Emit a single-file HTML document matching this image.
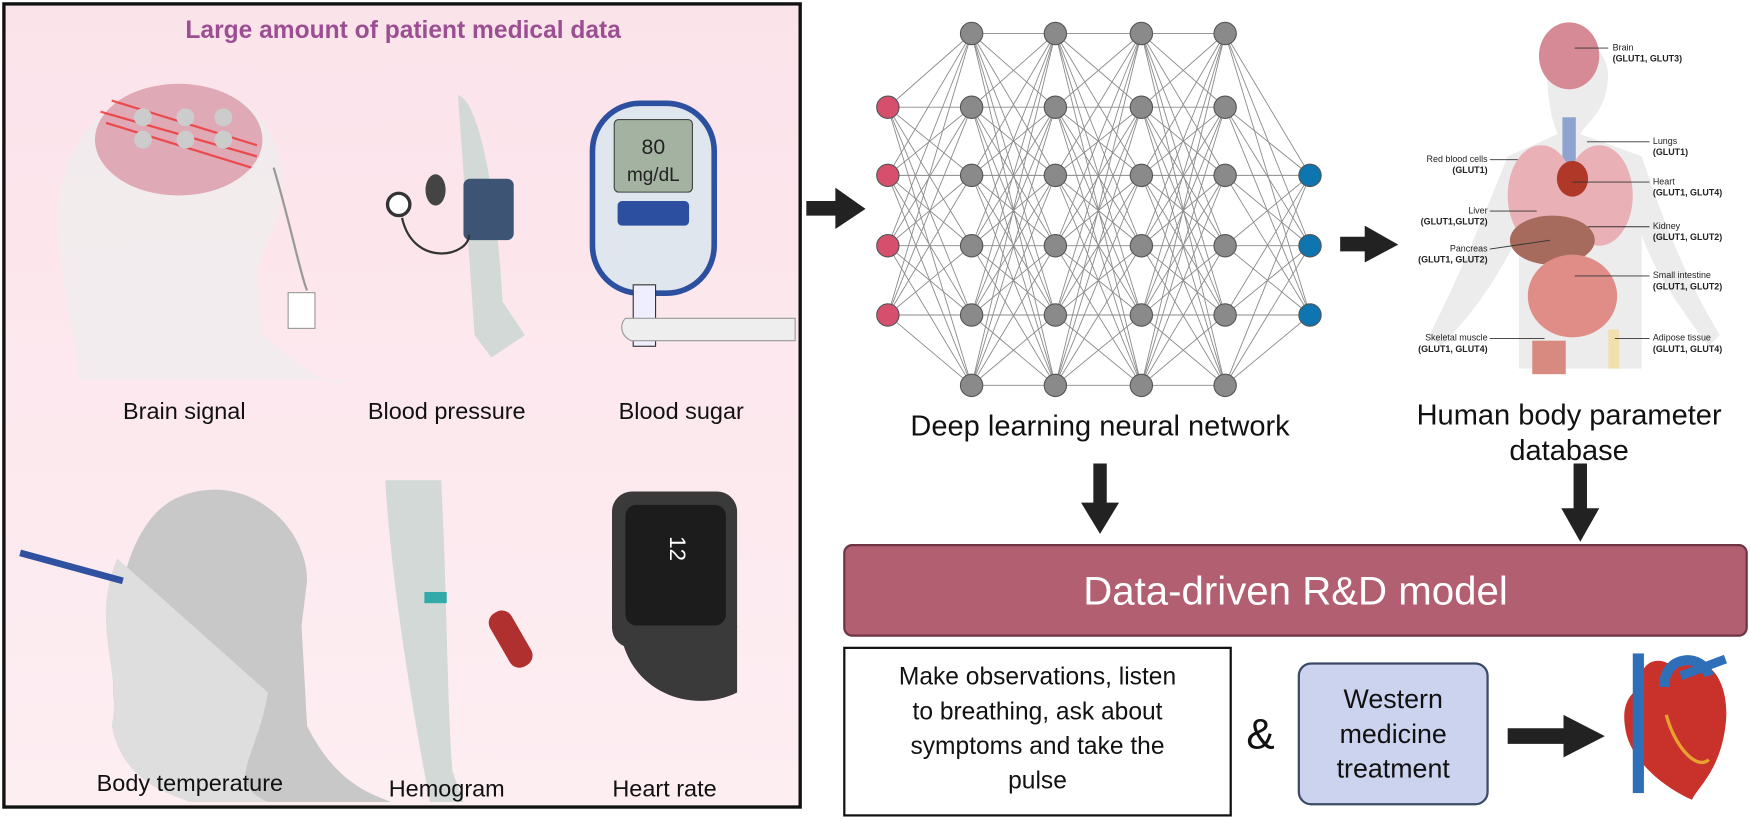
<!DOCTYPE html>
<html><head><meta charset="utf-8"><style>
body{margin:0;width:1750px;height:821px;background:#fff;position:relative;overflow:hidden;font-family:"Liberation Sans",sans-serif}
#w{position:absolute;left:0;top:0;width:1567px;height:735px;transform:scale(1.1168,1.117);transform-origin:0 0}
.t{position:absolute;color:#111;text-align:center}
</style></head><body><div id="w">
<div style="position:absolute;left:2px;top:2px;width:710px;height:716px;border:3px solid #111;background:linear-gradient(#fbe3ea,#fdeef2)"></div>
<div class="t" style="left:2px;width:718px;top:14px;font-size:22px;font-weight:bold;color:#9b4f92">Large amount of patient medical data</div>
<svg width="1567" height="735" style="position:absolute;left:0;top:0">
<path d="M70 330 C60 250 40 200 60 150 C80 90 140 70 190 80 C240 90 260 140 250 190 L230 240 L235 300 C270 330 300 350 310 340 L70 340Z" fill="#eee" opacity=".7"/>
<ellipse cx="160" cy="125" rx="75" ry="50" fill="#d99aa8" opacity=".8"/>
<g stroke="#e33" stroke-width="2" opacity=".8"><line x1="95" y1="110" x2="225" y2="150"/><line x1="90" y1="100" x2="230" y2="140"/><line x1="100" y1="90" x2="230" y2="130"/></g>
<g fill="#ccc"><circle cx="128" cy="105" r="8"/><circle cx="128" cy="125" r="8"/><circle cx="166" cy="105" r="8"/><circle cx="166" cy="125" r="8"/><circle cx="200" cy="105" r="8"/><circle cx="200" cy="125" r="8"/></g>
<path d="M245 150 C260 200 270 250 275 260" stroke="#999" fill="none" stroke-width="2"/>
<rect x="258" y="262" width="24" height="32" fill="#fff" stroke="#999"/>
<path d="M410 85 C430 90 445 180 450 270 L470 300 L440 320 L425 300 C420 230 415 150 410 85Z" fill="#d2d9d6"/>
<rect x="415" y="160" width="45" height="55" rx="6" fill="#3e5475"/>
<circle cx="357" cy="183" r="10" fill="#fff" stroke="#333" stroke-width="3"/>
<ellipse cx="390" cy="170" rx="9" ry="14" fill="#444"/>
<path d="M360 195 C370 240 420 230 420 210" stroke="#333" fill="none" stroke-width="2"/>
<rect x="528" y="90" width="114" height="175" rx="45" fill="#2d4fa0"/>
<rect x="533" y="95" width="104" height="165" rx="40" fill="#dfe6ee"/>
<rect x="550" y="107" width="70" height="65" rx="4" fill="#a4b2a2" stroke="#444"/>
<text x="585" y="138" font-size="19" text-anchor="middle" fill="#222">80</text>
<text x="585" y="162" font-size="17" text-anchor="middle" fill="#222">mg/dL</text>
<rect x="553" y="180" width="64" height="22" rx="4" fill="#2d4fa0"/>
<rect x="567" y="255" width="20" height="55" fill="#eef" stroke="#333"/>
<path d="M560 285 L712 285 L712 305 L565 305 C555 300 555 290 560 285Z" fill="#eee" stroke="#999"/>
<path d="M170 718 C150 700 110 690 105 650 C95 600 100 470 160 445 C220 420 275 470 275 520 L270 560 L275 650 C300 700 330 710 350 718Z" fill="#c8c8c8"/>
<path d="M105 500 C80 560 110 600 100 650 C110 700 150 710 170 718 L240 718 C200 700 230 680 240 620Z" fill="#dedede"/>
<line x1="18" y1="495" x2="110" y2="520" stroke="#3050a0" stroke-width="6"/>
<path d="M345 430 L395 430 C400 520 400 620 405 690 L415 718 L385 718 C370 640 350 520 345 430Z" fill="#d2d9d6"/>
<rect x="380" y="530" width="20" height="10" fill="#3aa"/>
<rect x="445" y="545" width="22" height="55" rx="10" transform="rotate(-30 456 570)" fill="#b03030"/>
<rect x="548" y="440" width="112" height="140" rx="18" fill="#3a3a3a"/>
<rect x="560" y="452" width="90" height="108" rx="10" fill="#1c1c1c"/>
<text x="600" y="480" font-size="20" fill="#fff" transform="rotate(90 600 480)">12</text>
<path d="M555 560 C560 620 620 640 660 620 L660 560Z" fill="#3a3a3a"/>
<g stroke="#8a8a8a" stroke-width="0.8" id="net"></g>
<path d="M1385 55 C1400 30 1435 30 1440 65 C1440 100 1420 110 1415 120 L1470 140 C1490 200 1510 250 1540 300 L1530 310 C1500 270 1480 240 1470 210 L1470 330 L1360 330 L1360 210 C1340 250 1320 280 1290 310 L1280 300 C1310 240 1330 190 1350 140 L1395 120 C1390 110 1385 90 1385 55Z" fill="#ececec"/>
<ellipse cx="1405" cy="50" rx="27" ry="30" fill="#d58a95"/>
<rect x="1399" y="105" width="12" height="60" fill="#8ea3cf"/>
<ellipse cx="1380" cy="175" rx="30" ry="45" fill="#e9b0b5"/><ellipse cx="1432" cy="175" rx="30" ry="45" fill="#e9b0b5"/>
<ellipse cx="1408" cy="160" rx="14" ry="16" fill="#b03828"/>
<ellipse cx="1390" cy="215" rx="38" ry="22" fill="#a66b5c"/>
<ellipse cx="1408" cy="265" rx="40" ry="37" fill="#e08d87"/>
<rect x="1372" y="305" width="30" height="30" fill="#d88a80"/>
<rect x="1440" y="295" width="10" height="35" fill="#f0e0b0"/>
<g font-size="8" fill="#222">
<text x="1444" y="45">Brain</text><text x="1444" y="55" font-weight="bold">(GLUT1, GLUT3)</text>
<text x="1480" y="129">Lungs</text><text x="1480" y="139" font-weight="bold">(GLUT1)</text>
<text x="1480" y="165">Heart</text><text x="1480" y="175" font-weight="bold">(GLUT1, GLUT4)</text>
<text x="1480" y="205">Kidney</text><text x="1480" y="215" font-weight="bold">(GLUT1, GLUT2)</text>
<text x="1480" y="249">Small intestine</text><text x="1480" y="259" font-weight="bold">(GLUT1, GLUT2)</text>
<text x="1480" y="305">Adipose tissue</text><text x="1480" y="315" font-weight="bold">(GLUT1, GLUT4)</text>
<g text-anchor="end"><text x="1332" y="145">Red blood cells</text><text x="1332" y="155" font-weight="bold">(GLUT1)</text>
<text x="1332" y="191">Liver</text><text x="1332" y="201" font-weight="bold">(GLUT1,GLUT2)</text>
<text x="1332" y="225">Pancreas</text><text x="1332" y="235" font-weight="bold">(GLUT1, GLUT2)</text>
<text x="1332" y="305">Skeletal muscle</text><text x="1332" y="315" font-weight="bold">(GLUT1, GLUT4)</text></g>
</g>
<g stroke="#333" stroke-width="0.8"><line x1="1410" y1="43" x2="1440" y2="43"/><line x1="1421" y1="127" x2="1477" y2="127"/><line x1="1408" y1="163" x2="1477" y2="163"/><line x1="1422" y1="203" x2="1477" y2="203"/><line x1="1410" y1="247" x2="1477" y2="247"/><line x1="1446" y1="303" x2="1477" y2="303"/><line x1="1334" y1="143" x2="1359" y2="143"/><line x1="1334" y1="189" x2="1376" y2="189"/><line x1="1334" y1="223" x2="1388" y2="215"/><line x1="1334" y1="303" x2="1383" y2="303"/></g>
<g fill="#222">
<path d="M722 180 L748 180 L748 168 L775 187 L748 205 L748 193 L722 193Z"/>
<path d="M1200 212 L1222 212 L1222 202 L1252 219 L1222 235 L1222 225 L1200 225Z"/>
<path d="M979 415 L991 415 L991 450 L1002 450 L985 478 L968 450 L979 450Z"/>
<path d="M1409 415 L1421 415 L1421 455 L1432 455 L1415 485 L1398 455 L1409 455Z"/>
<path d="M1350 652 L1400 652 L1400 640 L1437 659 L1400 678 L1400 666 L1350 666Z"/>
</g>
<path d="M1470 615 C1465 590 1490 585 1500 600 L1505 592 C1530 585 1550 610 1545 650 C1540 690 1520 705 1515 716 C1490 705 1458 680 1455 650 C1452 630 1460 620 1470 615Z" fill="#c8322a"/>
<path d="M1492 640 C1500 670 1520 690 1530 680" stroke="#e8a030" stroke-width="3" fill="none"/>
<rect x="1462" y="585" width="10" height="125" fill="#2f6fb8"/>
<path d="M1490 615 C1490 585 1525 585 1530 605" stroke="#2f6fb8" stroke-width="9" fill="none"/>
<path d="M1505 605 L1545 590" stroke="#2f6fb8" stroke-width="8"/>
</svg>
<div class="t" style="left:40px;width:250px;top:357px;font-size:21px">Brain signal</div>
<div class="t" style="left:300px;width:200px;top:357px;font-size:21px">Blood pressure</div>
<div class="t" style="left:510px;width:200px;top:357px;font-size:21px">Blood sugar</div>
<div class="t" style="left:60px;width:220px;top:690px;font-size:21px">Body temperature</div>
<div class="t" style="left:300px;width:200px;top:695px;font-size:21px">Hemogram</div>
<div class="t" style="left:495px;width:200px;top:695px;font-size:21px">Heart rate</div>
<div class="t" style="left:760px;width:450px;top:366px;font-size:26px">Deep learning neural network</div>
<div class="t" style="left:1225px;width:360px;top:355px;font-size:26px;line-height:32px">Human body parameter database</div>
<div style="position:absolute;left:755px;top:487px;width:810px;height:83px;background:#b35f72;border:2px solid #6e3544;border-radius:8px;box-sizing:border-box;color:#fff;font-size:36px;text-align:center;line-height:79px">Data-driven R&amp;D model</div>
<div style="position:absolute;left:755px;top:579px;width:348px;height:152px;border:2px solid #111;box-sizing:border-box;font-size:22px;text-align:center;padding:9px 4px 0;line-height:31px;color:#111">Make observations, listen<br>to breathing, ask about<br>symptoms and take the<br>pulse</div>
<div class="t" style="left:1116px;top:636px;font-size:38px;line-height:44px">&amp;</div>
<div style="position:absolute;left:1162px;top:593px;width:171px;height:128px;background:#ccd3ef;border:2px solid #3b4a66;border-radius:12px;box-sizing:border-box;font-size:24px;text-align:center;padding-top:16px;line-height:31px;color:#111">Western<br>medicine<br>treatment</div>
</div>
<script>
var g=document.getElementById('net'),ns='http://www.w3.org/2000/svg';
var xs=[795,870,945,1022,1097,1173];
var ys=[[96,157,220,282],[30,96,157,220,282,345],[30,96,157,220,282,345],[30,96,157,220,282,345],[30,96,157,220,282,345],[157,220,282]];
for(var i=0;i<5;i++)for(var a of ys[i])for(var b of ys[i+1]){var l=document.createElementNS(ns,'line');l.setAttribute('x1',xs[i]);l.setAttribute('y1',a);l.setAttribute('x2',xs[i+1]);l.setAttribute('y2',b);g.appendChild(l);}
for(var i=0;i<6;i++)for(var y of ys[i]){var c=document.createElementNS(ns,'circle');c.setAttribute('cx',xs[i]);c.setAttribute('cy',y);c.setAttribute('r',10);c.setAttribute('fill',i==0?'#d6506e':i==5?'#0e75b0':'#8a8a8a');c.setAttribute('stroke','#555');g.parentNode.insertBefore(c,g.nextSibling);}
</script>
</body></html>
